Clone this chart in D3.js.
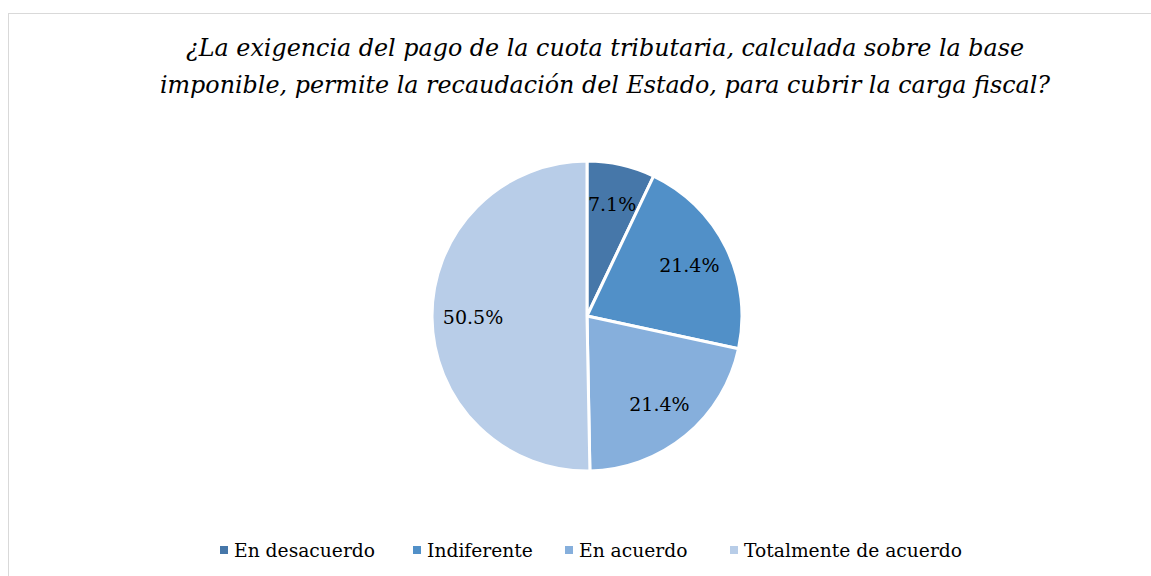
<!DOCTYPE html>
<html>
<head>
<meta charset="utf-8">
<script src="https://cdn.jsdelivr.net/npm/d3@7"></script>
<style>
  body { margin: 0; background: #fff; }
</style>
</head>
<body>
<svg id="chart" width="1151" height="576"></svg>
<script>
// datos del gráfico
const categories = ["En desacuerdo", "Indiferente", "En acuerdo", "Totalmente de acuerdo"];
const values = [7.1, 21.4, 21.4, 50.5];
const colors = ["#4677a9", "#5190c8", "#86afdc", "#b8cde8"];
const titleLines = [
    "¿La exigencia del pago de la cuota tributaria, calculada sobre la base",
    "imponible, permite la recaudación del Estado, para cubrir la carga fiscal?"
];

const width = 1151, height = 576;
const cx = 587, cy = 316, R = 155, labelR = 114;
// Liberation Serif no resuelve aquí, DejaVu Serif sí
const serif = "'DejaVu Serif', serif";

const svg = d3.select("#chart").style("font-family", serif);

// marco
svg.append("rect")
    .attr("x", 8.5).attr("y", 13.5)
    .attr("width", 1160).attr("height", 600)
    .attr("fill", "#fff")
    .attr("stroke", "#d9d9d9")
    .attr("stroke-width", 1);

// título
svg.append("g").selectAll("text")
    .data(titleLines)
    .enter()
    .append("text")
    .attr("x", 605)
    .attr("y", (d, i) => 56 + i * 37)
    .attr("text-anchor", "middle")
    .attr("font-family", serif)
    .attr("font-style", "italic")
    .attr("font-size", 23.8)
    .attr("fill", "#000")
    .text(d => d);

// pastel
const pie = d3.pie().sort(null).value(d => d.value);
const pieData = pie(categories.map((c, i) => ({ key: c, value: values[i] })));

const arc = d3.arc().innerRadius(0).outerRadius(R);
const labelArc = d3.arc().innerRadius(labelR).outerRadius(labelR);

const g = svg.append("g").attr("transform", `translate(${cx}, ${cy})`);

g.selectAll("path")
    .data(pieData)
    .enter()
    .append("path")
    .attr("d", arc)
    .attr("fill", (d, i) => colors[i])
    .attr("stroke", "#fff")
    .attr("stroke-width", 3)
    .attr("stroke-linejoin", "round");

g.selectAll("text.lbl")
    .data(pieData)
    .enter()
    .append("text")
    .attr("class", "lbl")
    .attr("transform", d => {
        const c = labelArc.centroid(d);
        return `translate(${c[0]}, ${c[1]})`;
    })
    .attr("dy", "0.35em")
    .attr("text-anchor", "middle")
    .attr("font-family", serif)
    .attr("font-size", 19)
    .attr("fill", "#000")
    .text(d => d.data.value.toFixed(1) + "%");

// leyenda
const legendX = [220, 413, 565, 730];
const legend = svg.append("g").selectAll("g")
    .data(categories)
    .enter()
    .append("g")
    .attr("transform", (d, i) => `translate(${legendX[i]}, 550)`);

legend.append("rect")
    .attr("x", 0).attr("y", -4)
    .attr("width", 8).attr("height", 8)
    .attr("fill", (d, i) => colors[i]);

legend.append("text")
    .attr("x", 14)
    .attr("dy", "0.35em")
    .attr("font-family", serif)
    .attr("font-size", 18.7)
    .attr("fill", "#000")
    .text(d => d);
</script>
</body>
</html>
